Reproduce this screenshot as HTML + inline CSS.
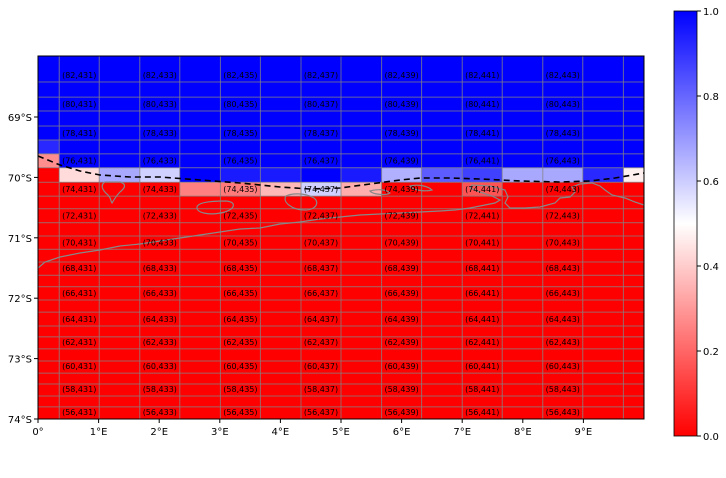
<!DOCTYPE html>
<html><head><meta charset="utf-8">
<style>
body{margin:0;background:#fff;}
svg{display:block;font-family:"DejaVu Sans","Liberation Sans",sans-serif;}
</style></head>
<body>
<svg id="chart" width="726" height="478" viewBox="0 0 726 478">
<defs>
<linearGradient id="bwr" x1="0" y1="1" x2="0" y2="0">
<stop offset="0" stop-color="#ff0000"/><stop offset="0.5" stop-color="#ffffff"/><stop offset="1" stop-color="#0000ff"/>
</linearGradient>
<clipPath id="plotclip"><rect x="38" y="56" width="606" height="363"/></clipPath>
</defs>
<g id="cells" clip-path="url(#plotclip)"></g>
<g id="grid" clip-path="url(#plotclip)"></g>
<g clip-path="url(#plotclip)" fill="none" stroke="#888" stroke-width="1.2">
<path d="M38,268 L45,262 L60,257 L80,253 L100,250 L120,246 L140,244 L160,241 L180,238 L200,235 L220,232 L240,229 L260,228 L280,224 L300,222 L320,219 L340,217 L360,215 L380,214 L400,213 L420,212 L440,211 L455,210 L470,208 L485,205 L495,203 L500,200 L492,196 L480,192 L470,188 L472,185 L490,186 L505,190 L508,197 L505,203 L510,208 L525,208 L540,207 L555,203 L560,198 L570,197 L575,192 L572,187 L580,184 L592,183 L600,186 L605,190 L612,195 L625,198 L635,202 L644,205"/>
<path d="M105,182 C100,185 102,190 108,195 C111,198 111,202 112,203 C114,200 116,196 120,192 C125,188 127,184 120,182 Z"/>
<path d="M197,207 C196,213 210,216 225,212 C236,208 236,202 226,201 C212,201 198,202 197,207 Z"/>
<path d="M286,196 C282,202 292,210 305,210 C318,210 320,200 312,197 C304,193 292,193 286,196 Z"/>
<path d="M370,191 C372,194 385,196 390,193 C386,189 376,189 370,191 Z"/>
<path d="M410,186 C412,190 425,192 432,190 C428,186 418,184 410,186 Z"/>
</g>
<polyline id="dashline" clip-path="url(#plotclip)" fill="none" stroke="#000" stroke-width="1.6" stroke-dasharray="6,4" points="38,156 60,165 80,171 100,175 130,177 160,177 200,180 240,183 280,187 310,189 340,188 370,184 400,180 420,178 450,178 480,179 520,181 560,182 590,181 615,178 644,173"/>
<g id="cellLabels" font-size="8" fill="#000" text-anchor="middle"></g>
<rect x="38" y="56" width="606" height="363" fill="none" stroke="#000" stroke-width="1"/>
<g id="axes" font-size="10" fill="#000"></g>
<g>
<rect x="674" y="11" width="23" height="425" fill="url(#bwr)" stroke="#000" stroke-width="0.8"/>
<g id="cbticks" font-size="10"></g>
</g>
</svg>
<script>
// grid geometry (degrees)
const lonEdges = [-0.32,0.35,1.01,1.68,2.34,3.01,3.67,4.34,5.0,5.67,6.33,7.0,7.66,8.33,8.99,9.66,10.32];
const latEdges = [67.99,68.42,68.67,68.90,69.15,69.38,69.61,69.84,70.08,70.31,70.52,70.75,70.97,71.19,71.40,71.62,71.81,72.03,72.23,72.46,72.64,72.84,73.04,73.24,73.42,73.62,73.80,74.0];
// cell values (rows top->bottom, 16 columns)
const rowsBlue = [
[1,1,1,1,1,1,1,1,1,1,1,1,1,1,1,1],
[1,1,1,1,1,1,1,1,1,1,1,1,1,1,1,1],
[1,1,1,1,1,1,1,1,1,1,1,1,1,1,1,1],
[1,1,1,1,1,1,1,1,1,1,1,1,1,1,1,1],
[1,1,1,1,1,1,1,1,1,1,1,1,1,1,1,1],
[0.92,1,1,1,1,1,1,1,1,1,1,1,1,1,1,1],
[0.28,1,1,1,1,1,1,1,1,1,1,1,1,1,1,1]];
const rowsTransition = [
[0,0.43,0.67,0.59,1,0.95,0.95,1,0.95,0.655,0.82,0.875,0.67,0.67,0.92,0.47],
[0,0,0,0,0.25,0.24,0.36,0.59,0.34,0,0,0.16,0,0,0,0]];
const rowsRed = [];
for (let r=0;r<19;r++) rowsRed.push([0,0,0,0,0,0,0,0,0,0,0,0,0,0,0,0]);
const values = rowsBlue.concat(rowsTransition, rowsRed);
const xTickLabels = ["0°","1°E","2°E","3°E","4°E","5°E","6°E","7°E","8°E","9°E"];
const xTickVals = [0,1,2,3,4,5,6,7,8,9];
const yTickLabels = ["69°S","70°S","71°S","72°S","73°S","74°S"];
const yTickVals = [69,70,71,72,73,74];
const cbTicks = [0,0.2,0.4,0.6,0.8,1.0];
const firstRowIndex = 82, firstColIndex = 430;

const NS="http://www.w3.org/2000/svg";
const X = lon => 38 + lon*60.6;
const Y = lat => 117 + (lat-69)*60.4;
function bwr(v){
  let r,g,b;
  if(v<0.5){r=255;g=b=Math.round(510*v);} else {r=g=Math.round(255*(2-2*v));b=255;}
  return `rgb(${r},${g},${b})`;
}
const cells=document.getElementById('cells');
const grid=document.getElementById('grid');
const labels=document.getElementById('cellLabels');
values.forEach((row,i)=>{
  row.forEach((v,j)=>{
    const el=document.createElementNS(NS,'rect');
    const x0=X(lonEdges[j]), x1=X(lonEdges[j+1]), y0=Y(latEdges[i]), y1=Y(latEdges[i+1]);
    el.setAttribute('x',x0);el.setAttribute('y',y0);
    el.setAttribute('width',x1-x0);el.setAttribute('height',y1-y0);
    el.setAttribute('fill',bwr(v));
    
    
    cells.appendChild(el);
    if(i%2===0 && j%2===1 && j<=13){
      const t=document.createElementNS(NS,'text');
      t.setAttribute('x',(x0+x1)/2);t.setAttribute('y',y1-4);
      t.textContent=`(${firstRowIndex-i},${firstColIndex+j})`;
      
      
      labels.appendChild(t);
    }
  });
});
lonEdges.forEach(l=>{
  const ln=document.createElementNS(NS,'line');
  ln.setAttribute('x1',X(l));ln.setAttribute('x2',X(l));ln.setAttribute('y1',56);ln.setAttribute('y2',419);
  ln.setAttribute('stroke','rgba(128,128,128,0.75)');ln.setAttribute('stroke-width','1');
  
  
  grid.appendChild(ln);
});
latEdges.forEach(l=>{
  const ln=document.createElementNS(NS,'line');
  ln.setAttribute('y1',Y(l));ln.setAttribute('y2',Y(l));ln.setAttribute('x1',38);ln.setAttribute('x2',644);
  ln.setAttribute('stroke','rgba(128,128,128,0.75)');ln.setAttribute('stroke-width','1');
  
  
  grid.appendChild(ln);
});
const axes=document.getElementById('axes');
xTickVals.forEach((v,i)=>{
  const x=X(v);
  const tk=document.createElementNS(NS,'line');
  tk.setAttribute('x1',x);tk.setAttribute('x2',x);tk.setAttribute('y1',419);tk.setAttribute('y2',423);tk.setAttribute('stroke','#000');
  
  
  axes.appendChild(tk);
  const t=document.createElementNS(NS,'text');
  t.setAttribute('x',x);t.setAttribute('y',435);t.setAttribute('text-anchor','middle');
  t.textContent=xTickLabels[i];
  
  
  axes.appendChild(t);
});
yTickVals.forEach((v,i)=>{
  const y=Y(v);
  const tk=document.createElementNS(NS,'line');
  tk.setAttribute('x1',34);tk.setAttribute('x2',38);tk.setAttribute('y1',y);tk.setAttribute('y2',y);tk.setAttribute('stroke','#000');
  
  
  axes.appendChild(tk);
  const t=document.createElementNS(NS,'text');
  t.setAttribute('x',32);t.setAttribute('y',y+4);t.setAttribute('text-anchor','end');
  t.textContent=yTickLabels[i];
  
  
  axes.appendChild(t);
});
const cb=document.getElementById('cbticks');
cbTicks.forEach(v=>{
  const y=436-v*425;
  const tk=document.createElementNS(NS,'line');
  tk.setAttribute('x1',697);tk.setAttribute('x2',701);tk.setAttribute('y1',y);tk.setAttribute('y2',y);tk.setAttribute('stroke','#000');
  
  
  cb.appendChild(tk);
  const t=document.createElementNS(NS,'text');
  t.setAttribute('x',703);t.setAttribute('y',y+4);
  t.textContent=v.toFixed(1);
  
  
  cb.appendChild(t);
});
</script>
</body></html>
